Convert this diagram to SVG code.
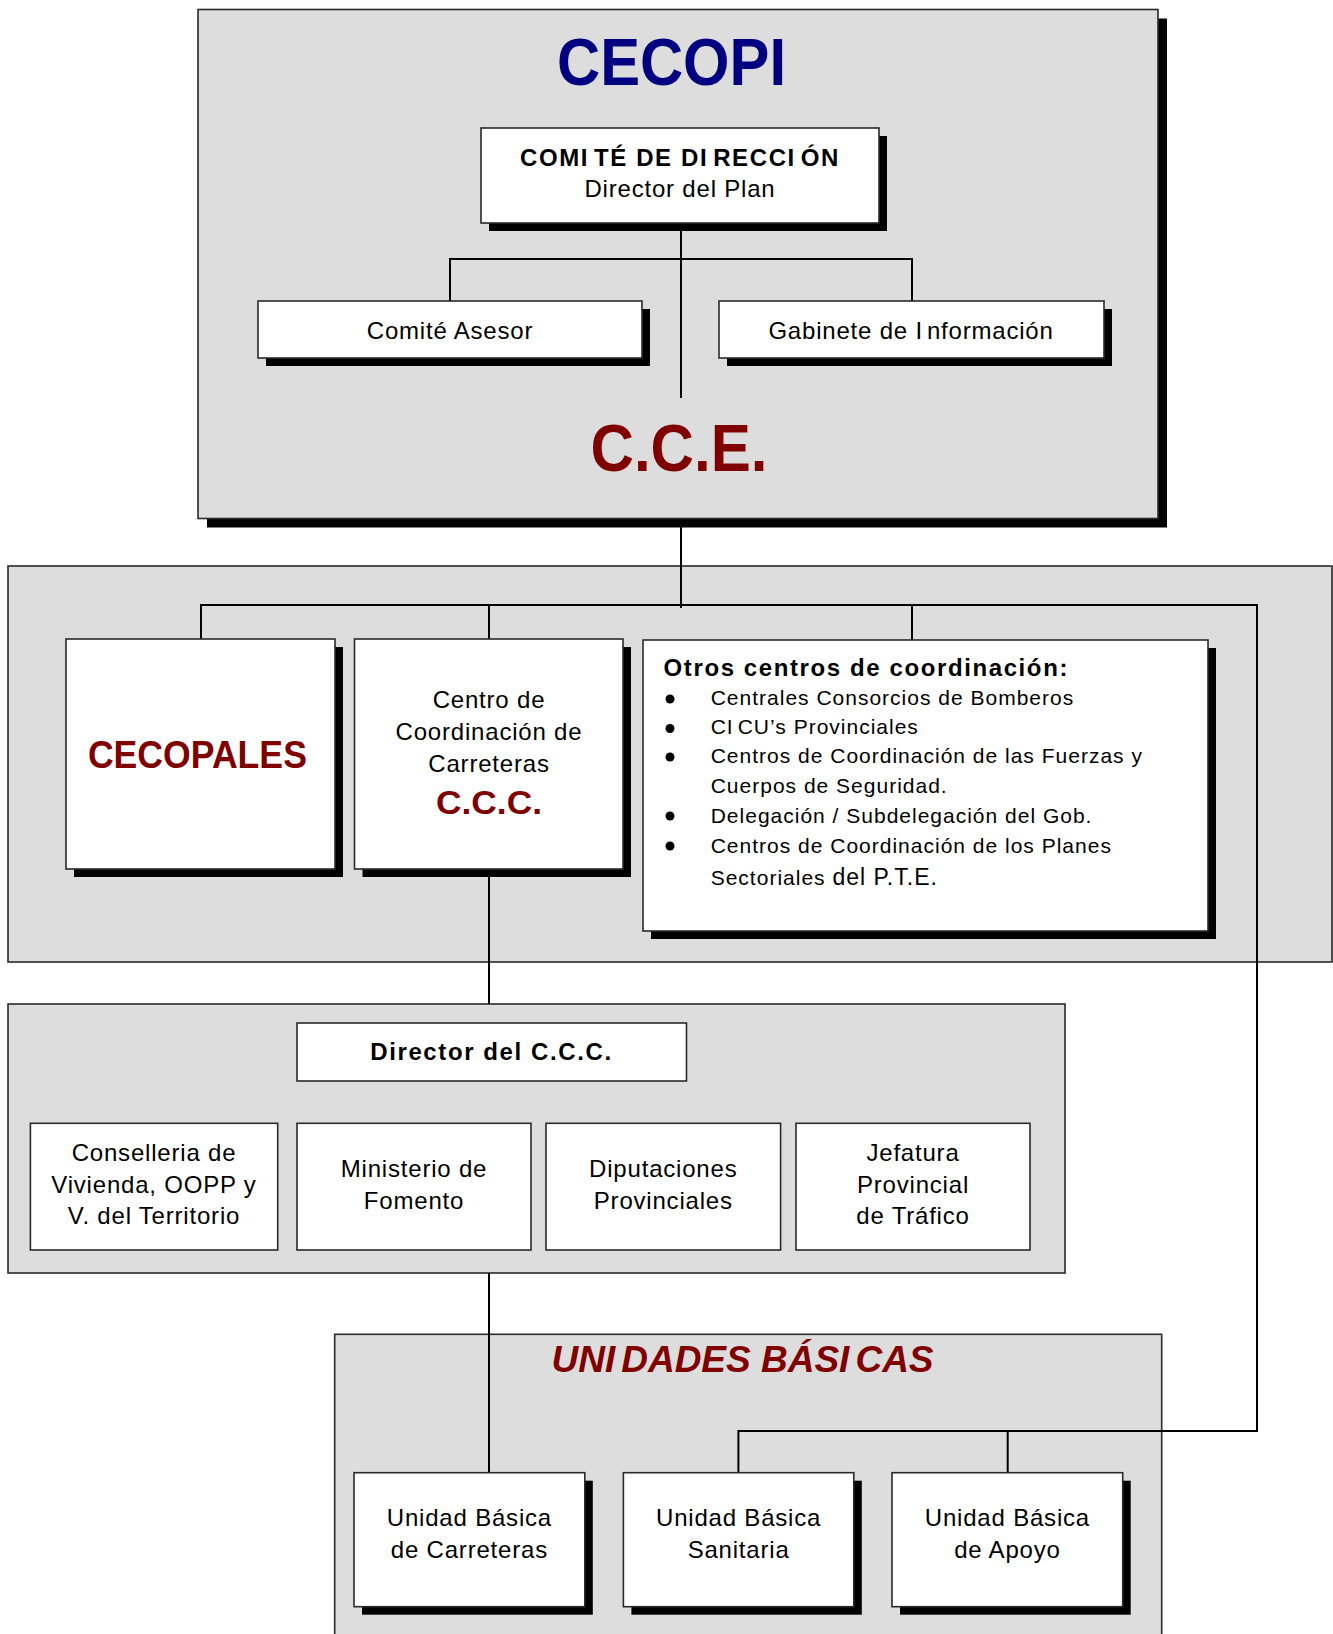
<svg xmlns="http://www.w3.org/2000/svg" width="1333" height="1634" viewBox="0 0 1333 1634">
<style>
.gray{fill:#dddddd;stroke:#2a2a2a;stroke-width:1.6}
.box{fill:#ffffff;stroke:#2a2a2a;stroke-width:1.6}
.sh{fill:#000000}
.conn{fill:none;stroke:#000000;stroke-width:2}
text{font-family:"Liberation Sans",Arial,sans-serif;fill:#000000}
.t{font-size:24px;letter-spacing:0.8px;text-anchor:middle}
.s{font-size:21px;letter-spacing:1px}
.b{font-weight:bold;font-size:24px;letter-spacing:1.6px}
.red{fill:#800000;font-weight:bold}
</style>
<rect width="1333" height="1634" fill="#ffffff"/>

<!-- containers -->
<g id="cecopi">
  <rect class="sh" x="207" y="18.5" width="960" height="509"/>
  <rect class="gray" x="198" y="9.5" width="960" height="509"/>
  <text x="671.5" y="85" font-size="67" font-weight="bold" fill="#000080" style="fill:#000080" text-anchor="middle" textLength="229" lengthAdjust="spacingAndGlyphs">CECOPI</text>
</g>
<g id="nivel-provincial">
  <rect class="gray" x="8" y="566" width="1324" height="396"/>
</g>
<g id="ccc-grupo">
  <rect class="gray" x="8" y="1004" width="1057" height="269"/>
</g>
<g id="unidades-basicas">
  <rect class="gray" x="334.7" y="1334.3" width="827" height="320"/>
  <text class="red" x="742.5" y="1372" font-size="37" font-style="italic" text-anchor="middle">UNI<tspan dx="6">DADES BÁSI</tspan><tspan dx="6">CAS</tspan></text>
</g>

<!-- connectors -->
<g id="connectors">
  <path class="conn" d="M681,224 V398"/>
  <path class="conn" d="M450,301 V259 H912 V301"/>
  <path class="conn" d="M681,520 V608"/>
  <path class="conn" d="M201,639 V605 H1257 V1431 H738.4 V1472.7"/>
  <path class="conn" d="M489,605 V639"/>
  <path class="conn" d="M912,605 V640"/>
  <path class="conn" d="M1007.7,1431 V1472.7"/>
  <path class="conn" d="M489,869 V1004"/>
  <path class="conn" d="M489,1273 V1472.7"/>
</g>

<!-- nodes -->
<g id="comite-direccion">
  <rect class="sh" x="489" y="136" width="398" height="95"/>
  <rect class="box" x="481" y="128" width="398" height="95"/>
  <text class="b" x="680" y="166" text-anchor="middle">COMI<tspan dx="5">TÉ DE DI</tspan><tspan dx="5">RECCI</tspan><tspan dx="5">ÓN</tspan></text>
  <text class="t" x="680" y="197">Director del Plan</text>
</g>
<g id="comite-asesor">
  <rect class="sh" x="266" y="309" width="384" height="57"/>
  <rect class="box" x="258" y="301" width="384" height="57"/>
  <text class="t" x="450" y="339">Comité Asesor</text>
</g>
<g id="gabinete">
  <rect class="sh" x="727" y="309" width="385" height="57"/>
  <rect class="box" x="719" y="301" width="385" height="57"/>
  <text class="t" x="911" y="339">Gabinete de I<tspan dx="4">nformación</tspan></text>
</g>
<g id="cce">
  <text class="red" x="679" y="471" font-size="66" text-anchor="middle" textLength="177" lengthAdjust="spacingAndGlyphs">C.C.E.</text>
</g>
<g id="cecopales">
  <rect class="sh" x="74" y="647" width="269" height="230"/>
  <rect class="box" x="66" y="639" width="269" height="230"/>
  <text class="red" x="197.4" y="768" font-size="38" text-anchor="middle" textLength="219" lengthAdjust="spacingAndGlyphs">CECOPALES</text>
</g>
<g id="ccc">
  <rect class="sh" x="362.5" y="647" width="268.5" height="230"/>
  <rect class="box" x="354.5" y="639" width="268.5" height="230"/>
  <text class="t" x="489" y="708">Centro de</text>
  <text class="t" x="489" y="740">Coordinación de</text>
  <text class="t" x="489" y="772">Carreteras</text>
  <text class="red" x="489" y="814" font-size="34" text-anchor="middle" textLength="106" lengthAdjust="spacingAndGlyphs">C.C.C.</text>
</g>
<g id="otros-centros">
  <rect class="sh" x="651" y="648" width="565" height="291"/>
  <rect class="box" x="643" y="640" width="565" height="291"/>
  <text class="b" x="663.6" y="676">Otros centros de coordinación:</text>
  <circle cx="670" cy="699" r="4.5"/>
  <circle cx="670" cy="728.5" r="4.5"/>
  <circle cx="670" cy="757" r="4.5"/>
  <circle cx="670" cy="816" r="4.5"/>
  <circle cx="670" cy="846" r="4.5"/>
  <text class="s" x="710.7" y="705">Centrales Consorcios de Bomberos</text>
  <text class="s" x="710.7" y="734">CI<tspan dx="4">CU’s Provinciales</tspan></text>
  <text class="s" x="710.7" y="763">Centros de Coordinación de las Fuerzas y</text>
  <text class="s" x="710.7" y="793">Cuerpos de Seguridad.</text>
  <text class="s" x="710.7" y="822.5">Delegación / Subdelegación del Gob.</text>
  <text class="s" x="710.7" y="852.5">Centros de Coordinación de los Planes</text>
  <text class="s" x="710.7" y="884.5">Sectoriales <tspan font-size="23">del P.T.E.</tspan></text>
</g>
<g id="director-ccc">
  <rect class="box" x="297" y="1023" width="389.5" height="58"/>
  <text class="b" x="491.5" y="1060" text-anchor="middle">Director del C.C.C.</text>
</g>
<g id="conselleria">
  <rect class="box" x="30.4" y="1123.3" width="247.3" height="126.7"/>
  <text class="t" x="154" y="1161">Conselleria de</text>
  <text class="t" x="154" y="1192.5">Vivienda, OOPP y</text>
  <text class="t" x="154" y="1224">V. del Territorio</text>
</g>
<g id="ministerio">
  <rect class="box" x="297" y="1123.3" width="234" height="126.7"/>
  <text class="t" x="414" y="1177">Ministerio de</text>
  <text class="t" x="414" y="1208.5">Fomento</text>
</g>
<g id="diputaciones">
  <rect class="box" x="546" y="1123.3" width="234.6" height="126.7"/>
  <text class="t" x="663.3" y="1177">Diputaciones</text>
  <text class="t" x="663.3" y="1208.5">Provinciales</text>
</g>
<g id="jefatura">
  <rect class="box" x="796" y="1123.3" width="234" height="126.7"/>
  <text class="t" x="913" y="1161">Jefatura</text>
  <text class="t" x="913" y="1192.5">Provincial</text>
  <text class="t" x="913" y="1224">de Tráfico</text>
</g>
<g id="ub-carreteras">
  <rect class="sh" x="362" y="1480.7" width="230.8" height="134"/>
  <rect class="box" x="354" y="1472.7" width="230.8" height="134"/>
  <text class="t" x="469.4" y="1526">Unidad Básica</text>
  <text class="t" x="469.4" y="1558">de Carreteras</text>
</g>
<g id="ub-sanitaria">
  <rect class="sh" x="631.4" y="1480.7" width="230.4" height="134"/>
  <rect class="box" x="623.4" y="1472.7" width="230.4" height="134"/>
  <text class="t" x="738.6" y="1526">Unidad Básica</text>
  <text class="t" x="738.6" y="1558">Sanitaria</text>
</g>
<g id="ub-apoyo">
  <rect class="sh" x="900" y="1480.7" width="230.7" height="134"/>
  <rect class="box" x="892" y="1472.7" width="230.7" height="134"/>
  <text class="t" x="1007.4" y="1526">Unidad Básica</text>
  <text class="t" x="1007.4" y="1558">de Apoyo</text>
</g>
</svg>
